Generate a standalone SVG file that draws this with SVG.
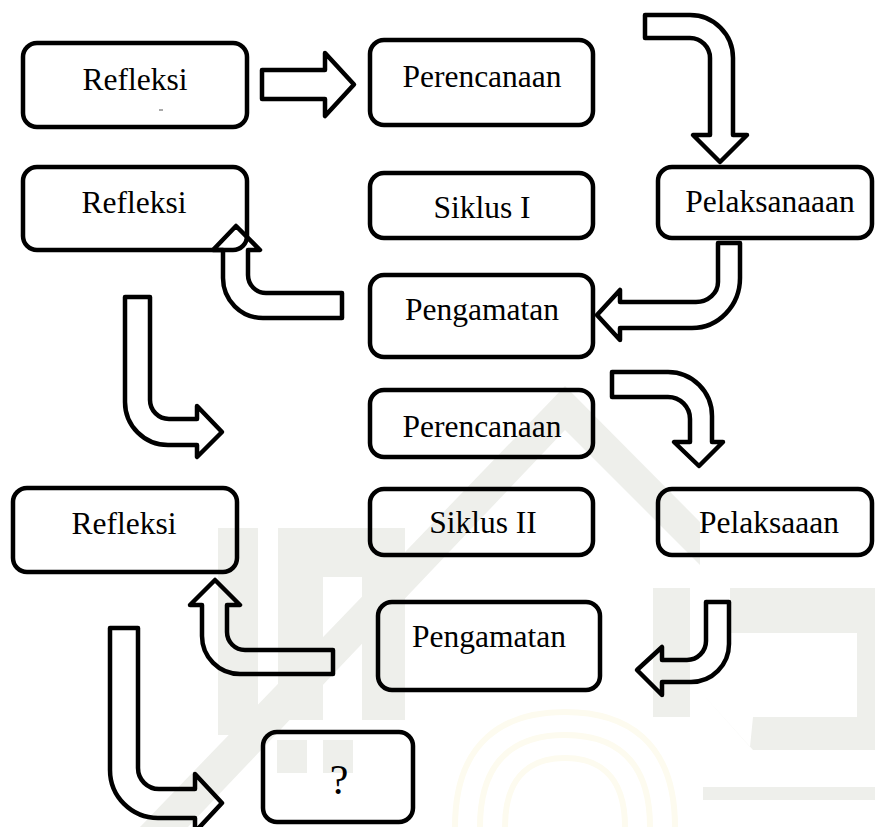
<svg xmlns="http://www.w3.org/2000/svg" width="875" height="827" viewBox="0 0 875 827">
<style>
.box{fill:none;stroke:#000;stroke-width:4.5}
.arr{fill:none;stroke:#000;stroke-width:4.5;stroke-linejoin:round}
.wm{fill:#eeefeb}
.yl{fill:none;stroke:#fdfbef;stroke-width:6}
</style>
<rect width="875" height="827" fill="#fff"/>
<g id="watermark">
<path class="yl" d="M455,827 C455,740 505,712 565,712 C625,712 675,740 675,827"/>
<path class="yl" d="M480,827 C480,755 520,735 565,735 C610,735 650,755 650,827"/>
<path class="yl" d="M505,827 C505,772 535,758 565,758 C595,758 625,772 625,827"/>
<path class="wm" d="M140,827 L565,386 L565,430 L188,827 Z"/>
<path class="wm" d="M565,386 L700,522 L700,565 L565,430 Z"/>
<path class="wm" d="M218,528 H258 V735 H218 Z"/>
<path class="wm" d="M278,528 H405 V720 H362 V577 H323 V720 H278 Z"/>
<path class="wm" d="M277,740 H307 V773 H277 Z M323,740 H353 V773 H323 Z"/>
<path class="wm" d="M653,588 H690 V717 H653 Z"/>
<path class="wm" d="M730,588 H875 V633 H730 Z"/>
<path class="wm" d="M857,633 H875 V717 H857 Z"/>
<path class="wm" d="M690,680 L750,747 L753,717 H875 V750 H753 Z"/>
<path class="wm" d="M703,787 H875 V800 H703 Z"/>
</g>
<g id="connectors">
<path class="arr" d="M262,70 H325 V53 L354,84.5 L325,116 V99 H262 Z"/>
<path class="arr" d="M645,15 H690 A43,43 0 0 1 733,58 V135 H747 L720,162 L693,135 H710 V58 A20,20 0 0 0 690,38 H645 Z"/>
<path class="arr" d="M718,243 H740 V278 A48,50 0 0 1 692,328 H620 V340 L597,315 L620,290 V302 H696 A22,20 0 0 0 718,282 Z"/>
<path class="arr" d="M342,293 V318 H263 A40,40 0 0 1 223,278 V250 H213 L236,226 L260,250 H248 V275 A18,18 0 0 0 266,293 Z"/>
<path class="arr" d="M125,297 H150 V400 A19,19 0 0 0 169,419 H197 V406 L222,432 L197,457 V445 H168 A43,43 0 0 1 125,402 Z"/>
<path class="arr" d="M612,372 H668 A44,44 0 0 1 712,416 V442 H723 L699,466 L674,442 H690 V419 A22,22 0 0 0 668,397 H612 Z"/>
<path class="arr" d="M706,602 H729 V644 A38,38 0 0 1 691,682 H662 V695 L637,670 L662,647 V660 H687 A19,19 0 0 0 706,641 Z"/>
<path class="arr" d="M333,650 V674 H240 A38,38 0 0 1 202,636 V605 H190 L215,580 L240,605 H227 V632 A18,18 0 0 0 245,650 Z"/>
<path class="arr" d="M110,628 H138 V768 A21,21 0 0 0 159,789 H195 V774 L222,803 L195,832 V818 H158 A48,48 0 0 1 110,770 Z"/>
</g>
<g font-family="'Liberation Serif', 'Times New Roman', Times, serif" font-size="31.5" fill="#000" text-anchor="middle">
<g id="refleksi1"><rect class="box" x="23" y="43" width="224" height="84" rx="14"/><text x="135" y="90">Refleksi</text><line x1="159" y1="110" x2="163" y2="110" stroke="#555" stroke-width="1"/></g>
<g id="perencanaan1"><rect class="box" x="370" y="40" width="223" height="85" rx="14"/><text x="482" y="87">Perencanaan</text></g>
<g id="refleksi2"><rect class="box" x="23" y="167" width="224" height="83" rx="14"/><text x="134" y="213">Refleksi</text></g>
<g id="siklus1"><rect class="box" x="370" y="173" width="223" height="65" rx="14"/><text x="482" y="218">Siklus I</text></g>
<g id="pelaksanaaan"><rect class="box" x="658" y="167" width="214" height="71" rx="14"/><text x="770" y="212">Pelaksanaaan</text></g>
<g id="pengamatan1"><rect class="box" x="370" y="275" width="223" height="82" rx="14"/><text x="482" y="320">Pengamatan</text></g>
<g id="perencanaan2"><rect class="box" x="370" y="390" width="223" height="67" rx="14"/><text x="482" y="437">Perencanaan</text></g>
<g id="siklus2"><rect class="box" x="370" y="489" width="223" height="66" rx="14"/><text x="483" y="533">Siklus II</text></g>
<g id="pelaksaaan"><rect class="box" x="658" y="489" width="214" height="66" rx="14"/><text x="769" y="533">Pelaksaaan</text></g>
<g id="refleksi3"><rect class="box" x="13" y="488" width="224" height="84" rx="14"/><text x="124" y="534">Refleksi</text></g>
<g id="pengamatan2"><rect class="box" x="378" y="602" width="222" height="88" rx="14"/><text x="489" y="647">Pengamatan</text></g>
<g id="question"><rect class="box" x="263" y="732" width="150" height="90" rx="14"/><text x="339" y="794" font-size="42">?</text></g>
</g>
</svg>
